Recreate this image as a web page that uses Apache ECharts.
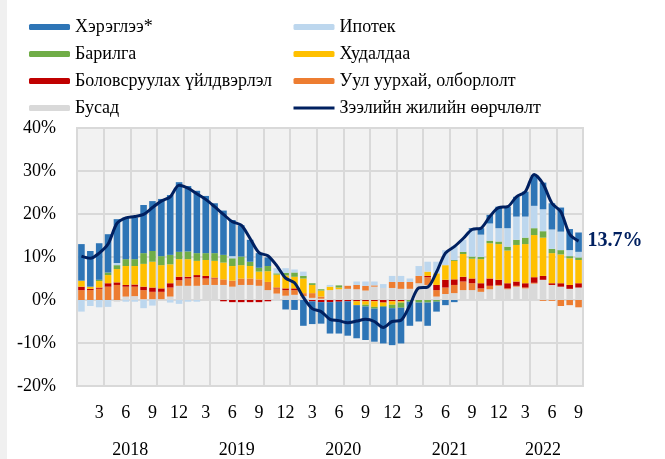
<!DOCTYPE html>
<html>
<head>
<meta charset="utf-8">
<script src="https://cdn.jsdelivr.net/npm/echarts@6/dist/echarts.min.js"></script>
<style>
  html, body { margin: 0; padding: 0; background: #fff; }
  #chart { width: 665px; height: 459px; }
</style>
</head>
<body>
<div id="chart"></div>
<script>
// 2018-01 .. 2022-09, monthly
const startYear = 2018;
const monthCount = 57;
const yearLabels = ['2018', '2019', '2020', '2021', '2022'];
const yTicks = [-20, -10, 0, 10, 20, 30, 40];

// contributions, percentage points
const other = [0, 0, 0, 0, -0.4, 0.8, 0.9, 0.2, 0.2, 0.2, 0.8, 3.3,
  3.3, 3.3, 3.5, 3.5, 3.5, 3.1, 3.5, 3.5, 3.3, 2.3, 1.5, 1.0,
  1.2, 0.9, 0.5, 0.3, 2.3, 2.5, 2.6, 2.5, 2.2, 3.1, 2.8, 2.8,
  2.6, 2.6, 3.9, 3.5, 0.8, 1.4, 1.6, 2.3, 2.3, 1.9, 2.5, 3.3,
  2.5, 3.1, 2.7, 3.8, 4.7, 3.5, 3.1, 2.6, 2.9];
const mining = [2.3, 2.3, 2.6, 3.1, 3.5, 2.3, 2.2, 2.1, 1.7, 1.7, 2.1, 1.3,
  1.7, 2.0, 1.5, 1.5, 1.3, 1.4, 1.5, 1.5, 1.5, 1.9, 1.2, 1.3,
  1.1, 0.7, 1.1, 0.5, 0, 0, 0.7, 1.0, 1.1, 0.3, 0, 1.4,
  1.6, 1.6, 1.7, 1.8, 1.5, 1.5, 1.9, 2.0, 1.6, 0.8, 0.8, 0.2,
  0.2, 0.2, 0.2, 0.2, -0.2, -0.2, -1.4, -1.2, -1.7];
const manufacturing = [0.8, 0.3, 0.3, 0.8, 0.6, 0.4, 0.5, 0.8, 1.0, 0.8, 1.0, 0.8,
  0.4, 0.5, 0.6, 0.2, -0.3, -0.5, -0.5, -0.5, -0.5, -0.3, 0.2, 0.4,
  0.4, 0, -0.3, -0.5, -0.5, -0.4, -0.3, -0.3, -0.3, -0.3, -0.6, -0.3,
  -0.3, 0, 0, 0.3, 1.2, 1.8, 1.3, 1.1, 1.1, 1.2, 1.7, 1.2,
  1.2, 1.0, 1.0, 1.3, 0.9, 0.4, 0.8, 0.9, 1.0];
const trade = [1.4, 0.5, 1.5, 1.9, 3.1, 4.4, 4.3, 5.3, 6.0, 5.4, 4.4, 4.1,
  4.1, 3.3, 3.7, 3.9, 3.9, 3.4, 3.1, 2.9, 1.8, 2.5, 3.0, 3.0,
  2.7, 3.4, 1.9, 1.4, 0.8, 0.4, 0, -0.9, -0.8, -1.3, -0.8, -0.8,
  -0.3, 0, 0, 1.0, 2.7, 3.4, 4.3, 5.3, 4.6, 5.6, 8.2, 8.3,
  7.6, 8.5, 9.1, 9.8, 8.9, 7.0, 6.7, 6.2, 5.4];
const construction = [0, 0, 0.3, 0.6, 0.9, 1.6, 1.6, 2.5, 2.5, 2.1, 2.2, 1.7,
  1.8, 1.8, 1.6, 1.8, 1.8, 1.8, 2.0, 1.0, 0.9, 1.2, 0.3, 0.6,
  1.0, 0.6, 0.4, 0.3, 0, 0.5, 0, 0, -0.4, -0.4, -0.2, -0.8,
  -1.2, -0.4, -0.6, -0.6, -0.4, 0, 0.2, 0.5, 0.5, 0.5, 0.6, 0.6,
  0.9, 1.2, 1.5, 1.6, 1.5, 1.0, 1.0, 0.5, 0.6];
const mortgage = [-2.7, -1.4, -1.7, -1.6, 0.5, -0.4, -0.4, -1.9, -1.3, 0, -0.6, -0.9,
  -0.4, -0.4, 0, 0, 0, 0.5, 0, 0, 0, 0, 1.2, 1.1,
  0.7, 1.0, 0, 0, 0.4, 0, 0, 0.8, 1.0, 0.9, 0.9, 1.4,
  1.4, 0.8, 2.3, 2.3, 2.7, 3.5, 3.3, 2.8, 6.3, 5.2, 4.0, 3.1,
  4.3, 5.4, 4.9, 5.2, 5.1, 4.5, 4.3, 1.4, 1.3];
const consumer = [8.5, 8.3, 8.5, 8.9, 10.2, 9.7, 9.7, 11.2, 11.6, 13.3, 13.9, 16.2,
  15.2, 14.5, 13.3, 11.6, 10.3, 8.4, 7.3, 5.1, 3.4, 2.0, 0, -2.2,
  -2.3, -6.0, -5.3, -5.0, -7.3, -7.4, -8.0, -7.7, -7.8, -7.7, -8.5, -8.6,
  -8.3, -5.6, -4.4, -5.4, -2.3, -1.2, -0.5, 0, 0.3, 1.5, 2.0, 5.0,
  5.0, 4.6, 5.8, 7.2, 6.2, 6.1, 5.6, 4.9, 4.5];
// total loan growth, y/y %
const loanGrowth = [10.2, 9.7, 10.9, 13.0, 17.8, 19.1, 19.4, 19.9, 21.5, 23.0, 24.0, 26.7,
  26.0, 24.7, 23.4, 21.7, 19.9, 18.2, 17.4, 14.3, 11.0, 10.3, 8.0, 5.1,
  4.0, 0.6, -2.0, -2.7, -4.5, -4.8, -5.3, -4.9, -4.5, -5.0, -6.4, -5.0,
  -4.7, -1.2, 2.8, 3.0, 6.5, 10.9, 12.4, 14.3, 16.4, 16.7, 19.4, 21.5,
  21.7, 24.0, 25.2, 29.2, 27.0, 22.5, 20.5, 15.3, 13.7];

const months = [];
for (let i = 0; i < monthCount; i++) {
  months.push((startYear + Math.floor(i / 12)) + '-' + (i % 12 + 1));
}
// centre of each year on a 0..monthCount scale
const yearCentres = yearLabels.map(function (y, k) {
  const first = k * 12;
  const n = Math.min(12, monthCount - first);
  return first + n / 2;
});

const font = "'Liberation Serif', 'Times New Roman', serif";
const gridColor = '#d9d9d9';

function barSeries(name, data, color) {
  return {
    name: name,
    type: 'bar',
    stack: 'total',
    barWidth: '74%',
    data: data,
    itemStyle: { color: color },
  };
}

const chart = echarts.init(document.getElementById('chart'));
chart.setOption({
  animation: false,
  textStyle: { fontFamily: font },
  graphic: [{
    type: 'rect',
    left: 0, top: 0,
    shape: { width: 7, height: 459 },
    style: { fill: '#f0f0f0' },
    silent: true,
  }],
  legend: [{
    left: 24, top: 13,
    orient: 'vertical',
    itemWidth: 41, itemHeight: 6, itemGap: 9,
    data: ['Хэрэглээ*', 'Барилга', 'Боловсруулах үйлдвэрлэл', 'Бусад'],
    textStyle: { fontFamily: font, fontSize: 18, lineHeight: 18, color: '#000' },
  }, {
    left: 287, top: 13,
    orient: 'vertical',
    itemWidth: 41, itemHeight: 6, itemGap: 9,
    data: ['Ипотек', 'Худалдаа', 'Уул уурхай, олборлолт', {
      name: 'Зээлийн жилийн өөрчлөлт',
      itemStyle: { opacity: 0 },
      lineStyle: { width: 3 },
    }],
    textStyle: { fontFamily: font, fontSize: 18, lineHeight: 18, color: '#000' },
  }],
  grid: {
    left: 77, right: 82, top: 128, bottom: 73,
    show: true,
    backgroundColor: '#f2f2f2',
    borderColor: gridColor,
    borderWidth: 2,
  },
  xAxis: [{
    type: 'category',
    data: months,
    axisLine: { show: false, onZero: false },
    axisTick: { show: false },
    axisLabel: {
      interval: function (i) { return i % 3 === 2; },
      formatter: function (v) { return v.split('-')[1]; },
      margin: 18,
      fontFamily: font, fontSize: 18, color: '#000',
    },
    splitLine: {
      show: true,
      interval: function (i) { return i % 3 === 0; },
      lineStyle: { color: gridColor, width: 2 },
    },
  }, {
    type: 'value',
    position: 'bottom',
    min: 0, max: monthCount,
    axisLine: { show: false },
    axisTick: { show: false },
    splitLine: { show: false },
    axisLabel: {
      customValues: yearCentres,
      formatter: function (v) {
        const k = yearCentres.indexOf(v);
        return k >= 0 ? yearLabels[k] : '';
      },
      margin: 55,
      fontFamily: font, fontSize: 18, color: '#000',
    },
  }],
  yAxis: {
    type: 'value',
    min: yTicks[0], max: yTicks[yTicks.length - 1], interval: 10,
    axisLine: { show: false },
    axisTick: { show: false },
    axisLabel: {
      formatter: '{value}%',
      margin: 21,
      fontFamily: font, fontSize: 18, color: '#000',
    },
    splitLine: { lineStyle: { color: gridColor, width: 2 } },
  },
  series: [
    barSeries('Бусад', other, '#d9d9d9'),
    barSeries('Уул уурхай, олборлолт', mining, '#ed7d31'),
    barSeries('Боловсруулах үйлдвэрлэл', manufacturing, '#c00000'),
    barSeries('Худалдаа', trade, '#ffc000'),
    barSeries('Барилга', construction, '#70ad47'),
    barSeries('Ипотек', mortgage, '#bdd7ee'),
    barSeries('Хэрэглээ*', consumer, '#2e75b6'),
    {
      name: 'Зээлийн жилийн өөрчлөлт',
      type: 'line',
      data: loanGrowth,
      smooth: 0.3,
      symbol: 'none',
      z: 5,
      lineStyle: { color: '#002060', width: 3 },
      itemStyle: { color: '#002060' },
      endLabel: {
        show: true,
        distance: 9,
        formatter: function (p) { return p.value.toFixed(1) + '%'; },
        fontFamily: font, fontSize: 20, fontWeight: 'bold', color: '#002060',
      },
    },
  ],
});
</script>
</body>
</html>
